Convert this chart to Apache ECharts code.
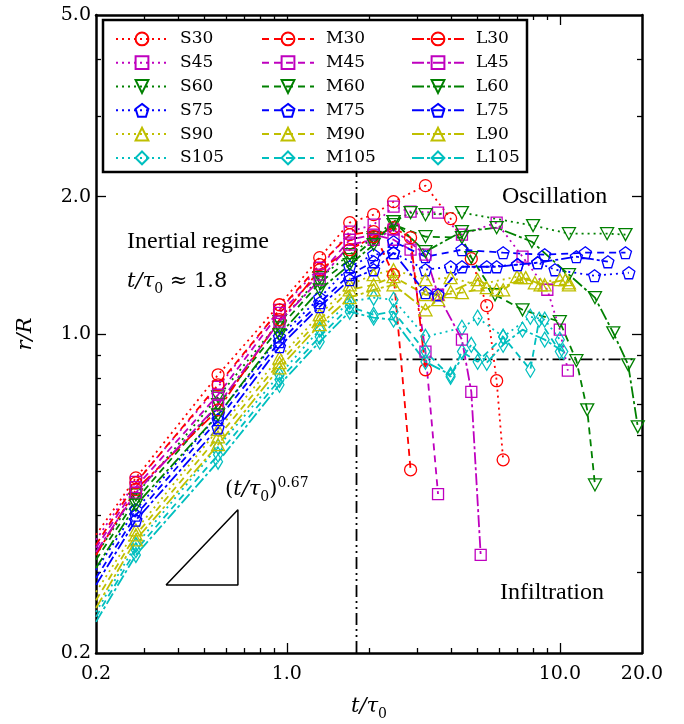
<!DOCTYPE html>
<html><head><meta charset="utf-8">
<script src="https://cdn.jsdelivr.net/npm/echarts@6/dist/echarts.min.js"></script>
<style>html,body{margin:0;padding:0;background:#fff}#c{width:684px;height:724px}</style>
</head><body><div id="c"></div>
<script>
// ---------- data (t/tau0 , r/R) ----------
const t_S30=[0.2,0.28,0.56,0.94,1.32,1.70,2.08,2.46,3.22,3.98,4.74,5.4,5.87,6.2];
const r_S30=[0.363,0.484,0.814,1.159,1.470,1.754,1.826,1.950,2.114,1.790,1.462,1.154,0.790,0.530];
const t_M30=[0.2,0.28,0.56,0.94,1.32,1.70,2.08,2.46,2.84];
const r_M30=[0.345,0.472,0.774,1.130,1.419,1.651,1.676,1.349,0.504];
const t_L30=[0.2,0.28,0.56,0.94,1.32,1.70,2.08,2.46,2.84,3.22];
const r_L30=[0.328,0.456,0.682,1.075,1.383,1.530,1.634,1.710,1.626,0.835];

const t_S45=[0.2,0.28,0.56,0.94,1.32,1.70,2.08,2.46,2.84,3.58,4.38,5.87,7.3,9.0,10.0,10.7];
const r_S45=[0.354,0.474,0.766,1.130,1.397,1.676,1.736,1.902,1.854,1.845,1.651,1.754,1.477,1.250,1.022,0.831];
const t_M45=[0.2,0.28,0.56,0.94,1.32,1.70,2.08,2.46,2.84,3.22,3.58];
const r_M45=[0.340,0.462,0.736,1.113,1.349,1.609,1.651,1.609,1.530,0.915,0.446];
const t_L45=[0.2,0.28,0.56,0.94,1.32,1.70,2.08,2.46,3.22,3.58,4.38,4.74,5.13];
const r_L45=[0.333,0.449,0.700,1.064,1.315,1.569,1.609,1.693,1.492,1.219,0.972,0.747,0.328];

const t_S60=[0.2,0.28,0.56,0.94,1.32,1.70,2.08,2.46,2.84,3.22,4.38,7.98,10.8,14.9,17.4];
const r_S60=[0.328,0.444,0.728,1.064,1.329,1.492,1.626,1.763,1.845,1.826,1.845,1.728,1.659,1.659,1.651];
const t_M60=[0.2,0.28,0.56,0.94,1.32,1.70,2.08,2.46,3.22,4.38,4.74,5.79,7.3,10.0,11.5,12.6,13.45];
const r_M60=[0.320,0.433,0.700,1.032,1.295,1.455,1.609,1.736,1.634,1.626,1.470,1.219,1.130,1.064,0.874,0.682,0.467];
const t_L60=[0.2,0.28,0.56,0.94,1.32,1.70,2.08,2.46,3.22,4.38,5.87,7.9,10.8,13.45,15.7,17.8,19.3];
const r_L60=[0.307,0.422,0.665,0.996,1.250,1.419,1.569,1.763,1.515,1.676,1.710,1.593,1.349,1.201,1.006,0.856,0.626];

const t_S75=[0.2,0.28,0.56,0.94,1.32,1.70,2.08,2.46,3.22,3.98,5.4,7.0,8.3,9.6,13.4,17.9];
const r_S75=[0.304,0.412,0.665,0.986,1.201,1.404,1.492,1.507,1.383,1.404,1.404,1.419,1.433,1.383,1.342,1.362];
const t_M75=[0.2,0.28,0.56,0.94,1.32,1.70,2.08,2.46,3.22,4.38,6.2,8.8,12.4,17.4];
const r_M75=[0.292,0.401,0.649,0.962,1.171,1.349,1.440,1.593,1.477,1.530,1.507,1.492,1.507,1.507];
const t_L75=[0.2,0.28,0.56,0.94,1.32,1.70,2.08,2.46,3.22,3.58,4.38,5.87,7.0,8.3,11.5,15.0];
const r_L75=[0.282,0.391,0.623,0.938,1.148,1.315,1.383,1.507,1.232,1.219,1.404,1.404,1.419,1.433,1.477,1.440];

const t_S90=[0.2,0.28,0.56,0.94,1.32,1.70,2.08,2.46,3.22,3.98,5.0,6.97,8.1,10.0,10.8];
const r_S90=[0.272,0.372,0.617,0.887,1.102,1.282,1.349,1.383,1.315,1.329,1.282,1.335,1.295,1.315,1.295];
const t_M90=[0.2,0.28,0.56,0.94,1.32,1.70,2.08,2.46,3.22,3.58,4.38,5.4,6.2,7.2,8.8,10.8];
const r_M90=[0.261,0.363,0.595,0.865,1.075,1.250,1.282,1.335,1.219,1.219,1.232,1.263,1.250,1.329,1.282,1.282];
const t_L90=[0.2,0.28,0.56,0.94,1.32,1.70,2.08,2.46,3.22,3.58,3.98,5.0,5.87,7.5,8.5,10.5];
const r_L90=[0.251,0.354,0.572,0.843,1.048,1.201,1.250,1.282,1.130,1.189,1.238,1.315,1.250,1.329,1.282,1.315];

const t_S105=[0.2,0.28,0.56,0.94,1.32,1.70,2.08,2.46,3.22,4.38,5.0,6.2,7.8,8.8,10.0];
const r_S105=[0.246,0.345,0.566,0.814,1.022,1.177,1.201,1.189,0.986,1.032,1.086,0.986,1.091,1.075,0.972];
const t_M105=[0.2,0.28,0.56,0.94,1.32,1.70,2.08,2.46,3.22,3.98,4.38,5.0,6.2,7.8,8.4,10.0];
const r_M105=[0.240,0.336,0.544,0.794,0.986,1.148,1.102,1.119,0.915,0.806,0.915,0.869,0.986,0.835,1.075,0.915];
const t_L105=[0.2,0.28,0.56,0.94,1.32,1.70,2.08,2.46,3.22,3.98,4.74,5.4,6.2,7.3,8.8,10.3];
const r_L105=[0.234,0.328,0.525,0.774,0.962,1.119,1.086,1.075,0.869,0.814,0.947,0.865,0.947,1.022,0.972,0.915];

// reference guides
const vLine_t=[1.8,1.8], vLine_r=[0.2,5.0];
const hLine_t=[1.8,19.0], hLine_r=[0.88,0.88];
const tri_t=[0.361,0.662,0.662,0.361], tri_r=[0.282,0.282,0.412,0.282];

// tick values / labels
const xLabels=[0.2,1,10,20];
const xMajor=[1,10];
const xMinor=[0.3,0.4,0.5,0.6,0.7,0.8,0.9,2,3,4,5,6,7,8,9];
const yLabels=[0.2,1,2,5];
const yMajor=[1,2];
const yMinor=[0.3,0.4,0.5,0.6,0.7,0.8,0.9,3,4];

// ---------- styling ----------
const COL={30:'#ff0000',45:'#bf00bf',60:'#008000',75:'#0000ff',90:'#bfbf00',105:'#00bfbf'};
const MK={
  30:{symbol:'circle',size:12},
  45:{symbol:'rect',size:11},
  60:{symbol:'path://M0,0 L20,0 L10,17 Z',size:[13,12]},
  75:{symbol:'path://M10,0 L19.51,6.91 L15.88,18.09 L4.12,18.09 L0.49,6.91 Z',size:12},
  90:{symbol:'triangle',size:[13,12]},
  105:{symbol:'diamond',size:[9,15]}
};
const DASH={S:[2,4],M:[7,5],L:[12,3,3,3]};
const groups=['S','M','L'], angles=[30,45,60,75,90,105];
const DATA={S30:[t_S30,r_S30],M30:[t_M30,r_M30],L30:[t_L30,r_L30],
 S45:[t_S45,r_S45],M45:[t_M45,r_M45],L45:[t_L45,r_L45],
 S60:[t_S60,r_S60],M60:[t_M60,r_M60],L60:[t_L60,r_L60],
 S75:[t_S75,r_S75],M75:[t_M75,r_M75],L75:[t_L75,r_L75],
 S90:[t_S90,r_S90],M90:[t_M90,r_M90],L90:[t_L90,r_L90],
 S105:[t_S105,r_S105],M105:[t_M105,r_M105],L105:[t_L105,r_L105]};

const series=[];
groups.forEach(g=>angles.forEach(a=>{
  const name=g+a, d=DATA[name];
  series.push({
    type:'line', name, xAxisIndex:0, yAxisIndex:0,
    data:d[0].map((t,i)=> i===0 ? {value:[t,d[1][i]],symbol:'none'} : [t,d[1][i]]),
    symbol:MK[a].symbol, symbolSize:MK[a].size,
    lineStyle:{color:COL[a],width:1.8,type:DASH[g]},
    itemStyle:{color:'none',borderColor:COL[a],borderWidth:1.3},
    emphasis:{disabled:true}, silent:true, z:2
  });
}));
function guide(ts,rs,dash,w){
  return {type:'line',xAxisIndex:0,yAxisIndex:0,data:ts.map((t,i)=>[t,rs[i]]),symbol:'none',
    lineStyle:{color:'#000',width:w,type:dash},silent:true,z:1,emphasis:{disabled:true}};
}
series.push(guide(vLine_t,vLine_r,[12,4,2,4,2,4],1.8));
series.push(guide(hLine_t,hLine_r,[12,4,2,4,2,4],1.8));
series.push(guide(tri_t,tri_r,'solid',1.5));

const FONT='"DejaVu Serif"';
const mathRich={
  i:{fontFamily:FONT,fontSize:21,fontStyle:'italic',color:'#000',fill:'#000',lineHeight:28},
  s:{fontFamily:FONT,fontSize:14,color:'#000',fill:'#000',lineHeight:28,verticalAlign:'bottom'},
  n:{fontFamily:FONT,fontSize:21,color:'#000',fill:'#000',lineHeight:28},
  p:{fontFamily:FONT,fontSize:14,color:'#000',fill:'#000',lineHeight:28,verticalAlign:'top'}
};
function axis(kind,pos,ticks,len,labels,showLine){
  const isX=kind==='x';
  return {
    type:'log', logBase:10, min:0.2, max:isX?20:5, position:pos, gridIndex:0,
    axisLine:{show:showLine,lineStyle:{color:'#000',width:2.5}},
    axisTick:{show:true,inside:true,length:len,customValues:ticks,lineStyle:{color:'#000',width:1.3}},
    axisLabel: labels ? {show:true,customValues:labels,formatter:v=>Number(v).toFixed(1),
       fontFamily:FONT,fontSize:19,color:'#000',margin:isX?12:5} : {show:false},
    splitLine:{show:false}, minorTick:{show:false}, minorSplitLine:{show:false},
    name: labels ? (isX?'{i|t/τ}{s|0}':'{i|r/R}') : '',
    nameLocation:'middle', nameGap: isX?40:56,
    nameTextStyle:{fontFamily:FONT,fontSize:20,color:'#000',rich:mathRich}
  };
}

const legendNames=g=>angles.map(a=>g+a);
const legends=[110,256,406].map((left,i)=>({
  data:legendNames(groups[i]), orient:'vertical', left, top:25,
  itemWidth:52, itemHeight:16, itemGap:6, selectedMode:false, z:6,
  textStyle:{fontFamily:FONT,fontSize:17,lineHeight:16,color:'#000',padding:[0,0,0,7]}
}));

const option={
  animation:false,
  backgroundColor:'#fff',
  grid:{left:96,right:42,top:15,bottom:71,containLabel:false,outerBoundsMode:'none'},
  xAxis:[axis('x','bottom',xMajor,10,xLabels,true),axis('x','bottom',xMinor,5,null,false),
         axis('x','top',xMajor,10,null,true),axis('x','top',xMinor,5,null,false)],
  yAxis:[axis('y','left',yMajor,10,yLabels,true),axis('y','left',yMinor,5,null,false),
         axis('y','right',yMajor,10,null,true),axis('y','right',yMinor,5,null,false)],
  legend:legends,
  graphic:[
    {type:'rect',shape:{x:103,y:20,width:424,height:152},style:{fill:'#fff',stroke:'#000',lineWidth:2.5},z:5},
    {type:'text',x:127,y:242,z:7,style:{text:'Inertial regime',font:'24px "Liberation Serif"',fill:'#000',verticalAlign:'middle'}},
    {type:'text',x:127,y:282,z:7,style:{text:'{i|t/τ}{s|0}{n| ≈ 1.8}',verticalAlign:'middle',fill:'#000',rich:mathRich}},
    {type:'text',x:502,y:197,z:7,style:{text:'Oscillation',font:'24px "Liberation Serif"',fill:'#000',verticalAlign:'middle'}},
    {type:'text',x:500,y:593,z:7,style:{text:'Infiltration',font:'24px "Liberation Serif"',fill:'#000',verticalAlign:'middle'}},
    {type:'text',x:225,y:490,z:7,style:{text:'{n|(}{i|t/τ}{s|0}{n|)}{p|0.67}',verticalAlign:'middle',fill:'#000',rich:mathRich}}
  ],
  series
};
const chart=echarts.init(document.getElementById('c'));
chart.setOption(option);
</script></body></html>
